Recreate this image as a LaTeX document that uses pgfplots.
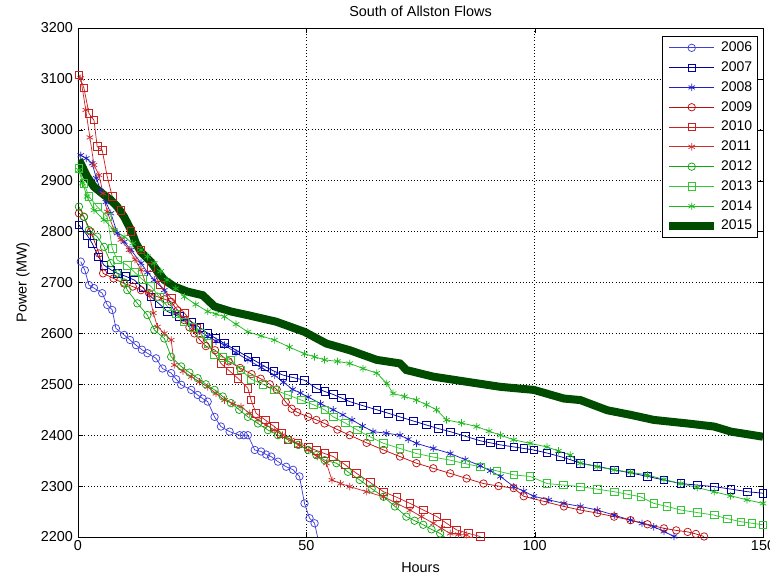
\documentclass[border=0pt]{standalone}
\usepackage{pgfplots}
\pgfplotsset{compat=1.18}
\usepackage{fontspec}
\setmainfont{Liberation Sans}
\definecolor{c06}{rgb}{0.25,0.25,0.85}
\definecolor{c07}{rgb}{0,0,0.62}
\definecolor{c08}{rgb}{0.12,0.12,0.78}
\definecolor{c09}{rgb}{0.75,0.05,0.05}
\definecolor{c10}{rgb}{0.80,0.12,0.12}
\definecolor{c11}{rgb}{0.80,0.18,0.18}
\definecolor{c12}{rgb}{0.05,0.65,0.05}
\definecolor{c13}{rgb}{0.2,0.78,0.2}
\definecolor{c14}{rgb}{0.12,0.72,0.12}
\definecolor{c15}{rgb}{0,0.3,0}
\begin{document}
\fontsize{10.8}{12}\selectfont
\begin{tikzpicture}
\begin{axis}[
  scale only axis,
  width=513.75pt, height=381.75pt,
  xmin=0, xmax=150, ymin=2200, ymax=3200,
  xtick={0,50,100,150}, ytick={2200,2300,...,3200},
  /pgf/number format/assume math mode=true,
  /pgf/number format/1000 sep={},
  tick label style={font=\fontsize{10.8}{12}\selectfont},
  xticklabel style={yshift=1pt},
  grid=major,
  major grid style={black, dotted, line width=0.5pt},
  axis line style={black, line width=0.6pt},
  tick style={black},
  major tick length=4pt,
  title={South of Allston Flows},
  title style={font=\fontsize{10.8}{12}\selectfont, yshift=-1pt},
  xlabel={Hours}, ylabel={Power (MW)},
  label style={font=\fontsize{10.8}{12}\selectfont},
  xlabel style={yshift=-1.5pt},
  ylabel style={yshift=1pt},
  legend style={at={(0.9927,0.984)}, anchor=north east, draw=black, line width=0.6pt,
    font=\fontsize{10.5}{11}\selectfont, row sep=1.9pt, inner sep=2pt},
  legend cell align=left,
  legend image code/.code={\draw[mark repeat=2,mark phase=2,#1] plot coordinates {(0cm,0cm) (0.6cm,0cm) (1.2cm,0cm)};},
  every axis plot/.append style={line width=0.55pt},
  mark size=2.8pt,
]
\addplot[c06, mark=o, mark options={draw=c06}] coordinates {(0.6,2741)(1.5,2724)(2.4,2695)(3.5,2689)(5.3,2679)(6.4,2656)(7.5,2646)(8.3,2610)(10.1,2597)(11.4,2587)(12.7,2577)(14,2568)(15.2,2561)(17.1,2551)(18.5,2531)(20.4,2522)(21.5,2510)(22.6,2499)(24.8,2489)(26.2,2479)(27.3,2472)(28.4,2466)(29.9,2436)(31.3,2417)(33.2,2407)(35.4,2400)(36.3,2400)(37.2,2400)(38.7,2371)(40.1,2368)(41.2,2362)(42.3,2358)(43.8,2348)(45.6,2338)(47.1,2332)(48.5,2319)(49.6,2266)(50.7,2237)(51.8,2227)(53.2,2170)};
\addplot[c07, mark=square, mark options={draw=c07}] coordinates {(0.2,2813)(2,2793)(3.1,2777)(4.5,2750)(5.7,2734)(7.2,2725)(8.6,2718)(10.5,2712)(12.3,2705)(14.2,2690)(16,2672)(17.8,2658)(19.6,2643)(22.2,2633)(24.8,2623)(26.6,2612)(28.4,2600)(30.2,2590)(32.1,2580)(34.6,2567)(37.2,2554)(39,2545)(40.9,2535)(42.9,2526)(44.9,2518)(47.2,2513)(49.6,2508)(52.2,2492)(54,2486)(55.9,2480)(57.7,2473)(59.5,2466)(62.4,2458)(65.4,2450)(68,2443)(70.5,2436)(73.4,2428)(76.3,2420)(78.9,2413)(81.5,2407)(84.8,2398)(88.1,2389)(90.3,2385)(92.5,2381)(95.4,2377)(97.6,2374)(99.8,2371)(102.7,2365)(105.6,2358)(107.8,2352)(110,2345)(113.7,2339)(117.4,2332)(121,2326)(124.7,2319)(128.3,2312)(132,2305)(135.6,2302)(139.3,2299)(143,2294)(146.6,2289)(150,2286)};
\addplot[c08, mark=asterisk, mark options={draw=c08}] coordinates {(0.6,2950)(1.8,2944)(3.1,2934)(4,2905)(5,2880)(6.1,2858)(7.2,2836)(8.6,2797)(10.1,2780)(11.6,2764)(13.8,2738)(15.2,2720)(16.7,2705)(18.9,2685)(21.1,2643)(23,2630)(24.8,2617)(26.6,2605)(28.4,2594)(30.2,2585)(32.1,2577)(34.6,2562)(37.2,2548)(40.1,2533)(43,2518)(45,2504)(47,2490)(48.7,2483)(50.4,2475)(53.1,2462)(55.9,2450)(58,2440)(60,2430)(62.3,2418)(64.6,2407)(67.5,2404)(70.5,2400)(72.3,2392)(74.1,2384)(77.8,2374)(81.5,2364)(84.8,2352)(88.1,2340)(90.3,2330)(92.5,2319)(95.4,2299)(97.6,2290)(99.8,2280)(103.1,2273)(106.4,2266)(110,2260)(113.7,2253)(117.4,2243)(121,2233)(123.5,2227)(126.1,2220)(128.3,2211)(130.5,2201)(133,2195)};
\addplot[c09, mark=o, mark options={draw=c09}] coordinates {(0.2,2836)(1.3,2829)(2.8,2800)(4.6,2757)(5.5,2718)(7.8,2708)(10.1,2698)(12,2692)(13.8,2685)(15.6,2679)(17.4,2672)(19,2667)(20.4,2662)(21.8,2645)(23.3,2626)(24.4,2612)(25.5,2600)(26.7,2587)(28,2575)(30,2567)(33,2545)(35.5,2532)(38,2520)(40,2511)(42,2500)(43.5,2490)(45.5,2465)(46.8,2452)(48,2445)(50.4,2436)(52.2,2430)(54,2423)(56.8,2411)(59.5,2400)(63.2,2385)(66.9,2371)(70.5,2358)(74.1,2345)(77.8,2335)(81.5,2325)(85.1,2315)(88.8,2305)(92.1,2300)(95.4,2296)(97.6,2280)(102,2270)(106.4,2260)(110,2253)(113.7,2247)(117.4,2240)(121,2233)(124.7,2225)(128.3,2217)(131,2213)(133.5,2210)(135.3,2206)(137.1,2201)};
\addplot[c10, mark=square, mark options={draw=c10}] coordinates {(0.2,3108)(1.3,3082)(2.4,3032)(3.5,3019)(4.2,2967)(5.3,2960)(6.4,2908)(7.5,2869)(9.4,2842)(11.6,2800)(13.8,2764)(16,2730)(18,2695)(20.4,2669)(23.3,2640)(26,2610)(28.5,2580)(31.3,2541)(33.2,2526)(35,2512)(37.2,2492)(37.9,2469)(39,2443)(41,2430)(43,2417)(44.5,2404)(46,2391)(48.2,2384)(50.4,2377)(52.2,2370)(54,2364)(55.9,2358)(58.5,2342)(61,2325)(64,2307)(66.9,2289)(69.8,2278)(72.7,2266)(75.6,2253)(78.6,2240)(80.7,2227)(82.9,2214)(85.5,2207)(88.1,2201)};
\addplot[c11, mark=asterisk, mark options={draw=c11}] coordinates {(0.6,3101)(1.7,3039)(2.6,2985)(3.5,2931)(4.6,2911)(5.5,2875)(6.4,2839)(7.9,2803)(9.4,2784)(11.2,2764)(12.5,2745)(13.8,2725)(15.5,2680)(16.5,2640)(17.4,2613)(18.9,2600)(20.4,2587)(21.1,2538)(23,2526)(24.8,2515)(26.6,2505)(28.4,2495)(30.2,2482)(32.1,2469)(33.9,2462)(35.7,2456)(37.6,2443)(39.4,2430)(41.2,2420)(43,2410)(44.8,2400)(46.7,2391)(48.5,2381)(50.4,2371)(52.4,2358)(54.4,2345)(55.6,2312)(57.5,2305)(59.5,2299)(63.2,2289)(66.9,2279)(69.8,2266)(72.7,2253)(75.2,2240)(77.8,2227)(79.6,2217)(81.5,2207)(83.3,2205)(85.1,2204)};
\addplot[c12, mark=o, mark options={draw=c12}] coordinates {(0.2,2849)(1.3,2829)(2.4,2803)(4.2,2790)(5.7,2770)(7.2,2738)(8.6,2718)(10.1,2700)(10.8,2685)(13,2659)(15.2,2636)(16.7,2607)(18.9,2590)(20.4,2554)(22.6,2535)(24.4,2523)(26.2,2512)(28,2500)(29.9,2489)(31.7,2476)(33.5,2463)(35.3,2450)(37.2,2436)(39.4,2423)(41.6,2410)(43.8,2400)(46,2391)(48.2,2381)(50.4,2371)(52.2,2361)(54,2351)(56.6,2345)(59.1,2328)(61.7,2312)(64.3,2295)(66.9,2279)(69.4,2260)(71.9,2240)(73.7,2232)(75.6,2224)(77.4,2215)(79.3,2207)(80.5,2198)};
\addplot[c13, mark=square, mark options={draw=c13}] coordinates {(0.2,2924)(1.3,2895)(2.4,2869)(4.2,2849)(6.4,2829)(7.5,2767)(8.6,2744)(10.8,2734)(12.3,2721)(14.1,2706)(16,2692)(17.8,2672)(19.6,2653)(21.4,2638)(23.3,2623)(25.1,2612)(26.9,2600)(28.4,2580)(29.9,2558)(31.7,2553)(33.5,2548)(35.7,2528)(37.9,2510)(40.5,2500)(43,2489)(46,2479)(48.9,2469)(51.5,2460)(54,2450)(55.9,2436)(58.5,2424)(61.2,2410)(63.9,2397)(66.9,2384)(70.5,2374)(74.1,2364)(77.8,2357)(81.5,2351)(84.8,2344)(88.1,2338)(91.7,2330)(95.4,2322)(99,2319)(102.7,2305)(106.3,2302)(110,2299)(113.7,2294)(117.4,2289)(120.3,2284)(123.2,2279)(126.1,2266)(129,2260)(132,2253)(135.6,2248)(139.3,2243)(142.2,2236)(145.2,2230)(147.6,2227)(150,2224)};
\addplot[c14, mark=asterisk, mark options={draw=c14}] coordinates {(0.2,2921)(1,2895)(2,2869)(3.5,2842)(5.7,2823)(7.9,2803)(10.1,2790)(12,2777)(13.8,2764)(15.2,2751)(16.7,2738)(18.1,2722)(19.5,2705)(21.4,2688)(23.3,2672)(25.8,2657)(28.4,2643)(30.2,2638)(32.1,2633)(34.6,2618)(37.2,2603)(40.1,2595)(43,2587)(46.3,2573)(49.6,2560)(51.8,2554)(54,2548)(56.8,2545)(59.5,2541)(62.4,2531)(65.4,2522)(67.6,2502)(69,2482)(71.5,2476)(74.1,2469)(76.3,2460)(78.5,2450)(80.7,2430)(84,2424)(87.3,2417)(90,2408)(92.5,2400)(95.4,2391)(99,2384)(102.7,2377)(105.2,2369)(107.8,2361)(110,2345)(113.7,2338)(117.4,2332)(121,2327)(124.7,2322)(128.3,2313)(132,2305)(135.6,2297)(139.3,2289)(142.9,2281)(146.5,2273)(150,2266)};
\addplot[c15, line width=6pt, no marks] coordinates {(0.2,2941)(2,2908)(3.5,2888)(5.7,2872)(7.2,2862)(8.6,2849)(10.1,2829)(11.6,2803)(12.7,2777)(13.8,2760)(16,2740)(17.4,2722)(18.9,2705)(21.1,2692)(24,2682)(27.3,2675)(29.9,2653)(33.5,2643)(37.6,2635)(43.4,2623)(49.6,2603)(54.4,2580)(59.5,2567)(65.4,2548)(70.5,2541)(71.9,2528)(77.8,2515)(85.1,2505)(92.5,2495)(99.8,2489)(106.4,2472)(110,2469)(115.9,2449)(121,2440)(126.1,2430)(133.5,2423)(139.3,2417)(143,2407)(150,2397)};
\legend{2006,2007,2008,2009,2010,2011,2012,2013,2014,2015}
\end{axis}
\pgfresetboundingbox
\path[use as bounding box] ([xshift=-58.5pt,yshift=-30pt]current axis.south west) rectangle ([xshift=5.25pt,yshift=21pt]current axis.north east);
\end{tikzpicture}
\end{document}
